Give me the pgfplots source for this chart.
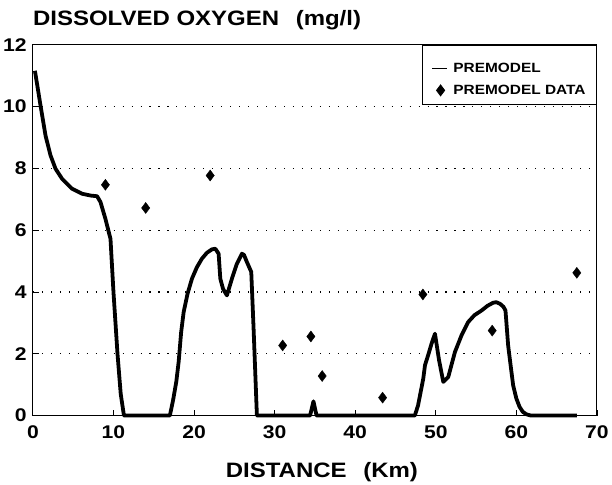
\documentclass[border=0pt]{standalone}
\usepackage{fontspec}
\usepackage{pgfplots}
\pgfplotsset{compat=1.18}
\newfontfamily\cf[FakeStretch=1.15]{Liberation Sans}
\begin{document}
\begin{tikzpicture}
\begin{axis}[
  at={(0,0)}, anchor=south west,
  scale only axis, width=566bp, height=372bp,
  xmin=0, xmax=70, ymin=0, ymax=12,
  xtick={0,10,...,70}, ytick={0,2,...,12},
  tick align=inside, xtick pos=bottom, ytick pos=left,
  major tick length=6bp,
  axis line style={line width=0.9bp},
  tick style={line width=0.8bp, black},
  ymajorgrids,
  grid style={line width=1.1bp, dash pattern=on 1.1bp off 7.9bp, black},
  /pgf/number format/assume math mode=true,
  tick label style={font=\cf\bfseries\fontsize{18.5}{18.5}\selectfont},
  xticklabel style={anchor=base, yshift=-23bp},
  yticklabel style={anchor=east, inner sep=0pt, xshift=-6bp},
  xlabel={DISTANCE\hspace{0.8em}(Km)},
  xlabel style={at={(axis description cs:0.5,0)}, anchor=base, yshift=-62bp, xshift=7bp, font=\cf\bfseries\fontsize{21}{22}\selectfont},
  clip=false,
  legend style={at={(1,1)}, anchor=north east, draw=black, line width=0.8bp,
    font=\cf\bfseries\fontsize{13.5}{14}\selectfont, inner xsep=9bp, inner ysep=6.5bp,
    row sep=7.5bp, cells={anchor=west}},
  legend cell align=left,
]
\addlegendimage{empty legend}
\addlegendentry[inner sep=0pt]{}
\addplot[black, line width=3.8bp, line join=round, forget plot] coordinates {
(0.25,11.16) (0.6,10.6) (0.95,10.03) (1.57,9.06) (2.19,8.42) (2.81,7.99)
(3.63,7.66) (4.87,7.34) (6.1,7.18) (7.2,7.12) (7.97,7.10) (8.39,6.91)
(9.0,6.37) (9.63,5.72) (10.0,4.0) (10.5,2.0) (10.9,0.7) (11.3,0)
(17.0,0) (17.4,0.5) (17.8,1.1) (18.09,1.74) (18.4,2.7) (18.71,3.35)
(19.2,3.95) (19.74,4.43) (20.35,4.8) (20.98,5.08) (21.6,5.27) (22.22,5.38)
(22.64,5.40) (23.05,5.24) (23.26,4.43) (23.6,4.1) (24.08,3.89) (24.70,4.43)
(25.3,4.9) (25.94,5.24) (26.2,5.2) (26.56,4.97) (27.10,4.65) (27.39,2.81)
(27.8,0) (34.4,0) (34.82,0.46) (35.2,0) (47.4,0) (47.8,0.33) (48.45,1.2)
(48.66,1.63) (49.07,1.97) (49.5,2.35) (49.9,2.65) (50.4,1.8) (50.93,1.09)
(51.55,1.25) (52.38,2.06) (53.2,2.6) (54.03,3.03) (54.8,3.25) (55.68,3.40)
(56.4,3.55) (57.1,3.65) (57.5,3.67) (57.96,3.62) (58.4,3.52) (58.65,3.40)
(58.98,2.27) (59.3,1.6) (59.6,0.98) (60.0,0.55) (60.4,0.28) (60.8,0.12)
(61.25,0.04) (61.8,0) (67.5,0)
};
\addlegendimage{legend image code/.code={\draw[black, line width=0.8bp] (0bp,0bp) -- (15bp,0bp);}}
\addlegendentry{\hspace{4bp}PREMODEL}
\addplot[only marks, mark=diamond*, mark size=5.5bp, black] coordinates {
(9.0,7.47) (14.0,6.72) (22.0,7.77) (31.0,2.27) (34.5,2.56) (35.9,1.28)
(43.4,0.58) (48.4,3.92) (57.0,2.75) (67.5,4.62)
};
\addlegendentry{\hspace{4bp}PREMODEL DATA\hspace{4bp}}
\end{axis}
\node[anchor=base west, inner sep=0pt, font=\cf\bfseries\fontsize{21}{22}\selectfont] at (0bp,391bp) {DISSOLVED OXYGEN\hspace{0.8em}(mg/l)};
\path (-33bp,-68bp) rectangle (579bp,417bp);
\end{tikzpicture}
\end{document}
